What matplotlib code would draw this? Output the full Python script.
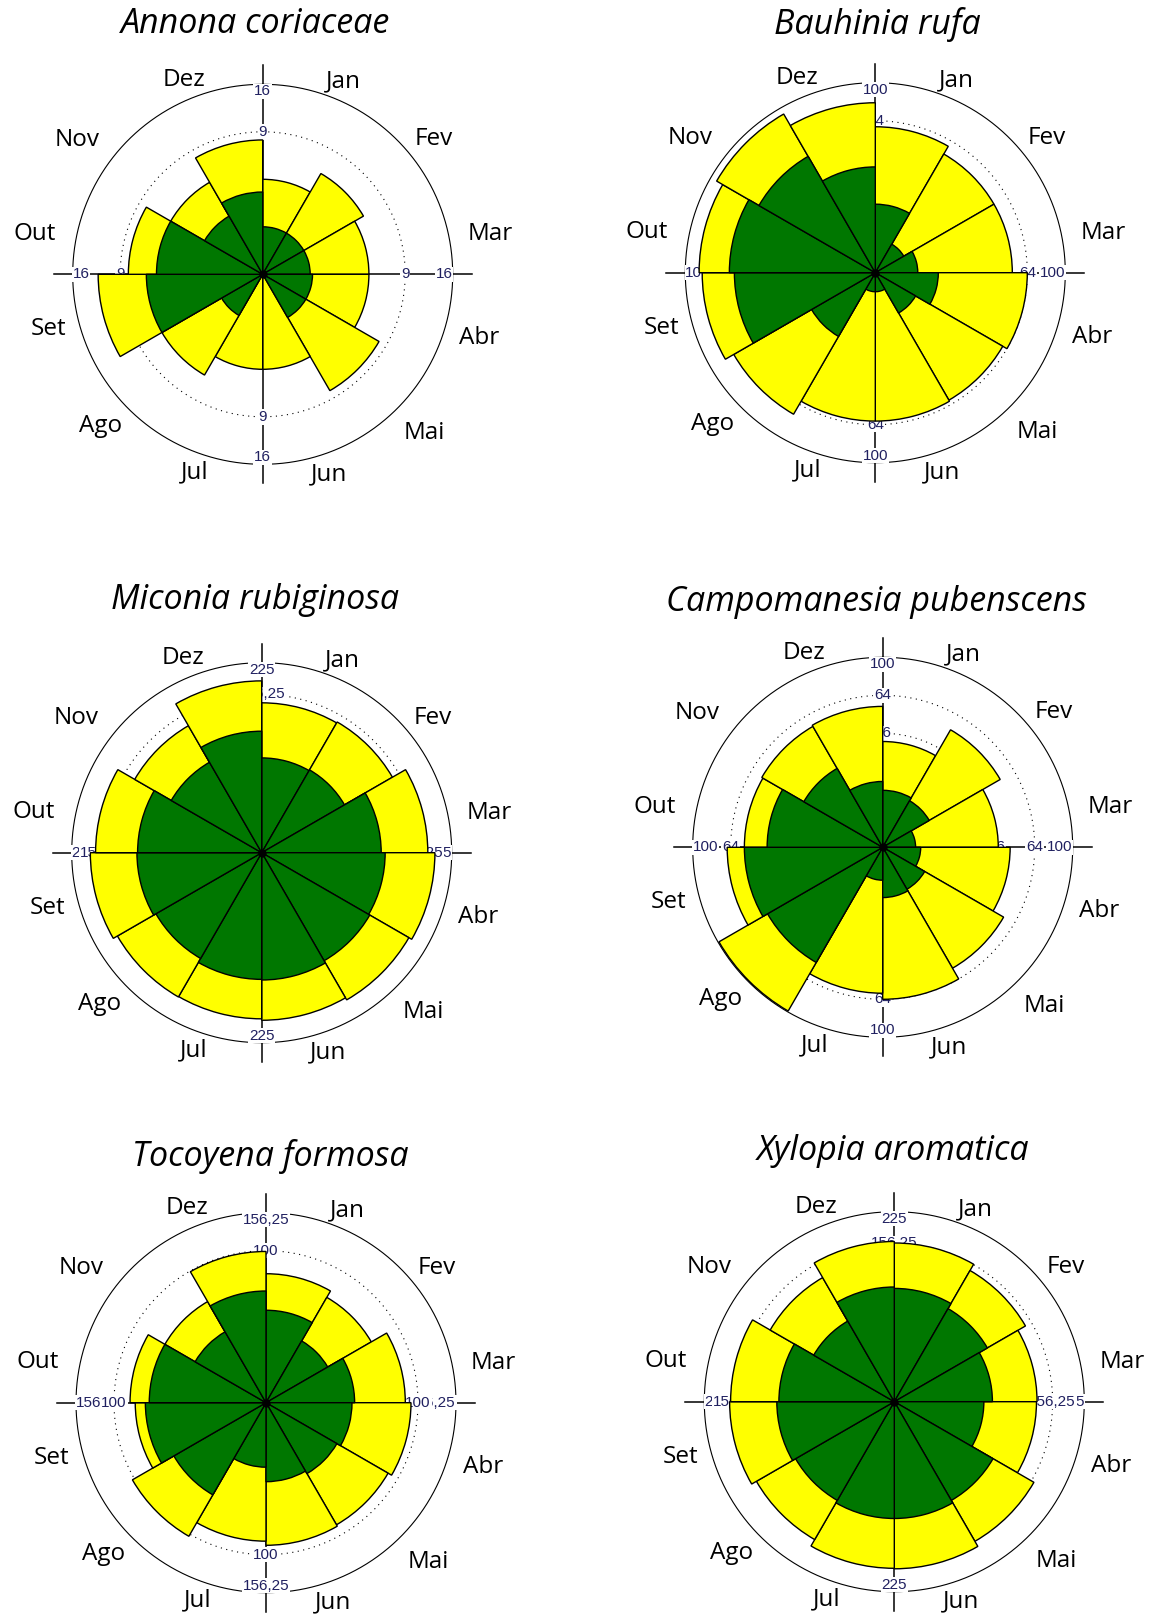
import numpy as np
import matplotlib
matplotlib.use("Agg")
import matplotlib.pyplot as plt

# ---------------- data ----------------
months = ['Jan', 'Fev', 'Mar', 'Abr', 'Mai', 'Jun', 'Jul', 'Ago', 'Set', 'Out', 'Nov', 'Dez']

titles = ['Annona coriaceae', 'Bauhinia rufa', 'Miconia rubiginosa',
          'Campomanesia pubenscens', 'Tocoyena formosa', 'Xylopia aromatica']

annona_yellow = [4, 6, 5, 5, 8, 4, 4, 6, 12, 8, 5, 8]
annona_green = [1, 1, 1, 1.1, 1.1, 0, 0, 1, 6, 5, 2, 3]

bauhinia_yellow = [59, 52, 52, 64, 60, 61, 61, 74, 83, 86, 93, 80]
bauhinia_green = [13, 3, 5, 11, 6, 1, 1, 15, 55, 59, 50, 31]

miconia_yellow = [140, 142, 172, 187, 180, 175, 172, 173, 183, 172, 134, 184]
miconia_green = [56, 57, 89, 95, 97, 101, 100, 93, 97, 96, 68, 92]

campomanesia_yellow = [31, 51, 37, 45, 54, 64, 59, 99, 67, 53, 54, 55]
campomanesia_green = [9, 8, 3, 4, 6.5, 7, 3, 49, 53, 37, 23, 12]

tocoyena_yellow = [72, 64, 84, 91, 86, 88, 83, 103, 74, 80, 59, 99]
tocoyena_green = [37, 22, 34, 32, 29, 27, 18, 49, 63, 59, 29, 54]

xylopia_yellow = [157, 143, 127, 126, 162, 174, 173, 158, 169, 167, 128, 160]
xylopia_green = [80, 72, 60, 50, 81, 85, 85, 81, 86, 83, 54, 82]

# radial scale: outer circle value and dotted ring values (tick labels)
outer_values = [16, 100, 225, 100, 156.25, 225]
outer_labels = ['16', '100', '225', '100', '156,25', '225']
ring_values = [[9], [64], [156.25], [36, 64], [100], [156.25]]
ring_labels = [['9'], ['64'], ['156,25'], ['36', '64'], ['100'], ['156,25']]

yellow_series = [annona_yellow, bauhinia_yellow, miconia_yellow,
                 campomanesia_yellow, tocoyena_yellow, xylopia_yellow]
green_series = [annona_green, bauhinia_green, miconia_green,
                campomanesia_green, tocoyena_green, xylopia_green]

# ---------------- layout ----------------
W, H = 1152, 1614
centers = [(262.7, 274.3), (875.3, 272.7), (261.7, 852.7),
           (882.7, 847.3), (266.0, 1402.7), (894.3, 1401.7)]
R = 190.0
EXT = 1.1
title_pos = [(256, 24), (877, 24), (255, 600), (876, 602), (270, 1156), (893, 1151)]
# month label placement (angle deg clockwise from north, radius / R)
label_place = [(22.8, 1.10), (51.7, 1.147), (80, 1.216), (106.4, 1.19),
               (134.5, 1.195), (161.5, 1.11), (199, 1.10), (227, 1.168),
               (255.6, 1.163), (280, 1.22), (306, 1.205), (338, 1.105)]

YELLOW = '#FFFF00'
GREEN = '#007700'
LABEL_COLOR = '#202060'

fig = plt.figure(figsize=(W / 100, H / 100), dpi=100)
fig.patch.set_facecolor('white')

fwd = lambda r: np.sqrt(np.clip(r, 0, None))
inv = lambda r: np.square(r)

theta = np.deg2rad(np.arange(12) * 30.0)
width = np.deg2rad(30.0)
circ = np.linspace(0, 2 * np.pi, 721)

for i in range(6):
    cx, cy = centers[i]
    L = R * EXT
    ax = fig.add_axes([(cx - L) / W, 1 - (cy + L) / H, 2 * L / W, 2 * L / H],
                      projection='polar')
    ax.set_theta_zero_location('N')
    ax.set_theta_direction(-1)
    ax.set_rscale('function', functions=(fwd, inv))
    outer = outer_values[i]
    rmax = outer * EXT ** 2
    ax.set_ylim(0, rmax)
    ax.set_xticks([])
    ax.set_yticks([])
    ax.grid(False)
    ax.spines['polar'].set_visible(False)
    ax.patch.set_visible(False)

    # axis cross lines
    for a in [0, 90, 180, 270]:
        ax.plot([np.deg2rad(a)] * 2, [0, rmax], color='black', lw=1.1, zorder=1,
                clip_on=False)
    # outer circle
    ax.plot(circ, np.full_like(circ, outer), color='black', lw=0.8, zorder=1)
    # dotted rings
    for rv in ring_values[i]:
        ax.plot(circ, np.full_like(circ, rv), color='black', lw=0.8,
                linestyle=(0, (1, 4)), zorder=1)

    bb = dict(facecolor='white', edgecolor='none', pad=0.6)
    # outer labels (inside the circle)
    al = {0: dict(ha='center', va='top'), 90: dict(ha='right', va='center'),
          180: dict(ha='center', va='bottom'), 270: dict(ha='left', va='center')}
    for a in [0, 90, 180, 270]:
        ax.text(np.deg2rad(a), outer, outer_labels[i], fontsize=11,
                color=LABEL_COLOR, family='Liberation Sans', zorder=2,
                bbox=bb, **al[a])
    for rv, rl in zip(ring_values[i], ring_labels[i]):
        for a in [0, 90, 180, 270]:
            ax.text(np.deg2rad(a), rv, rl, fontsize=11, color=LABEL_COLOR,
                    family='Liberation Sans', ha='center', va='center',
                    zorder=2, bbox=bb)

    # bars
    ax.bar(theta, yellow_series[i], width=width, bottom=0, align='edge',
           color=YELLOW, edgecolor='black', linewidth=1.0, zorder=3)
    ax.bar(theta, green_series[i], width=width, bottom=0, align='edge',
           color=GREEN, edgecolor='black', linewidth=1.0, zorder=4)
    ax.plot([0], [0], 'o', color='black', ms=5, zorder=6)

    # month labels
    Rax = 0.5 / EXT
    for m, (ang, rr) in zip(months, label_place):
        x = 0.5 + rr * Rax * np.sin(np.deg2rad(ang))
        y = 0.5 + rr * Rax * np.cos(np.deg2rad(ang))
        ax.text(x, y, m, transform=ax.transAxes, ha='center', va='center',
                fontsize=17.5, family='Open Sans', clip_on=False)

    tx, ty = title_pos[i]
    fig.text(tx / W, 1 - ty / H, titles[i], ha='center', va='center',
             fontsize=24.5, family='Open Sans', style='italic')

fig.savefig('out.png', dpi=100, facecolor='white')
